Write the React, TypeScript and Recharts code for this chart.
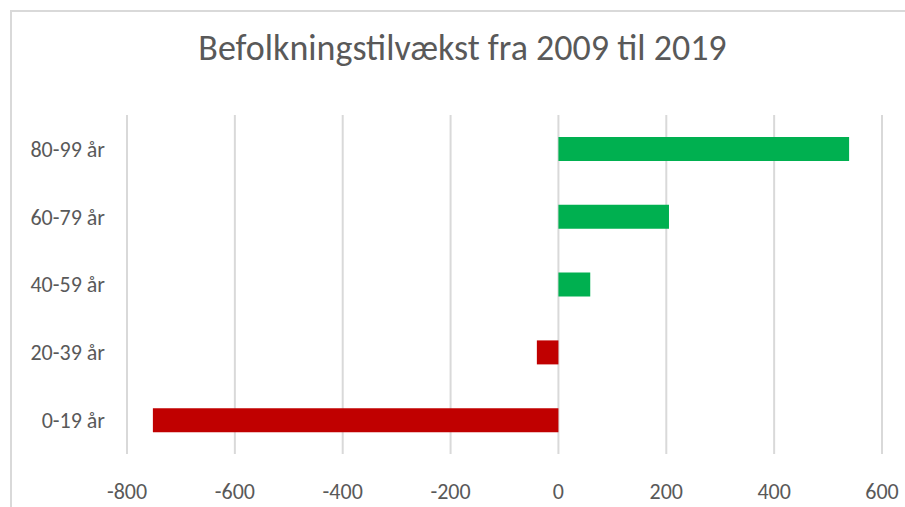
import React from "react";
import { BarChart, Bar, XAxis, YAxis, CartesianGrid, Cell } from "recharts";

// top to bottom, as in the picture
const ageGroups = ["80-99 år", "60-79 år", "40-59 år", "20-39 år", "0-19 år"];
const growth = [539, 205, 59, -40, -752];
const xTicks = [-800, -600, -400, -200, 0, 200, 400, 600];

const data = ageGroups.map((name, i) => ({ name, value: growth[i] }));

const font = "Calibri, Carlito, Lato, sans-serif";
const textColor = "#595959";
const gridColor = "#D9D9D9";

export default function App() {
  return (
    <div
      style={{
        position: "absolute",
        top: 0,
        left: 0,
        width: 905,
        height: 507,
        background: "#fff",
        overflow: "hidden",
        fontFamily: font,
      }}
    >
      <div
        style={{
          position: "absolute",
          left: 10,
          top: 10,
          width: 960,
          height: 560,
          borderLeft: `2px solid ${gridColor}`,
          borderTop: `2px solid ${gridColor}`,
        }}
      />
      <div
        style={{
          position: "absolute",
          left: 0,
          width: 925,
          top: 30,
          textAlign: "center",
          fontSize: 36,
          lineHeight: "36px",
          fontWeight: 300,
          color: textColor,
        }}
      >
        Befolkningstilvækst fra 2009 til 2019
      </div>
      <BarChart
        width={905}
        height={507}
        data={data}
        layout="vertical"
        margin={{ top: 115, right: 23, bottom: 0, left: 0 }}
        barSize={24}
        style={{ position: "absolute", top: 0, left: 0 }}
      >
        <CartesianGrid horizontal={false} stroke={gridColor} strokeWidth={2} />
        <XAxis
          type="number"
          domain={[-800, 600]}
          ticks={xTicks}
          height={53}
          axisLine={false}
          tickLine={false}
          tickMargin={23}
          tick={{ fill: textColor, fontSize: 22, fontFamily: font }}
        />
        <YAxis
          type="category"
          dataKey="name"
          width={127}
          axisLine={false}
          tickLine={false}
          tickMargin={16}
          tick={{ fill: textColor, fontSize: 22, fontFamily: font }}
        />
        <Bar dataKey="value" isAnimationActive={false}>
          {data.map((d) => (
            <Cell key={d.name} fill={d.value < 0 ? "#C00000" : "#00B050"} />
          ))}
        </Bar>
      </BarChart>
    </div>
  );
}
